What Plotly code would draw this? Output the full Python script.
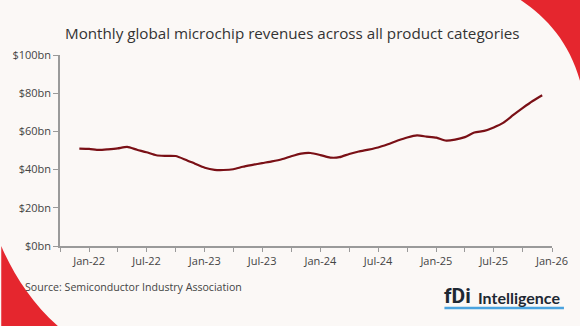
import plotly.graph_objects as go

# ---- data (monthly, $bn) ----
start_year, start_month = 2021, 12
revenues = [51.0, 50.8, 50.3, 50.6, 51.1, 51.9, 50.4, 49.1, 47.5, 47.2, 47.1, 45.2,
            43.1, 41.0, 39.9, 39.8, 40.2, 41.5, 42.5, 43.4, 44.3, 45.4, 47.0, 48.4,
            48.7, 47.6, 46.3, 46.5, 48.2, 49.5, 50.5, 51.6, 53.3, 55.2, 56.8, 57.9,
            57.3, 56.7, 55.2, 55.7, 57.0, 59.4, 60.3, 62.1, 64.6, 68.6, 72.3, 75.9,
            78.9]
dates = []
y, m = start_year, start_month
for _ in revenues:
    dates.append(f"{y:04d}-{m:02d}-01")
    m += 1
    if m > 12:
        m = 1
        y += 1

x_tickvals = ["2021-10-01", "2022-01-01", "2022-04-01", "2022-07-01", "2022-10-01",
              "2023-01-01", "2023-04-01", "2023-07-01", "2023-10-01", "2024-01-01",
              "2024-04-01", "2024-07-01", "2024-10-01", "2025-01-01", "2025-04-01",
              "2025-07-01", "2025-10-01", "2026-01-01"]
x_ticktext = ["", "Jan-22", "", "Jul-22", "", "Jan-23", "", "Jul-23", "", "Jan-24",
              "", "Jul-24", "", "Jan-25", "", "Jul-25", "", "Jan-26"]
y_tickvals = [0, 20, 40, 60, 80, 100]
y_ticktext = ["$0bn", "$20bn", "$40bn", "$60bn", "$80bn", "$100bn"]

title = "Monthly global microchip revenues across all product categories"
source = "Source: Semiconductor Industry Association"

# ---- layout geometry ----
W, H = 580, 326
ML, MR, MT, MB = 58, 28, 55, 80
PW, PH = W - ML - MR, H - MT - MB

def px(x):
    return (x - ML) / PW

def py(yv):
    return (H - MB - yv) / PH

BG = "#fbf8f6"
RED = "#e5262e"
LINE = "#7a1016"
FONT = "Open Sans"

fig = go.Figure()
fig.add_trace(go.Scatter(x=dates, y=revenues, mode="lines",
                         line=dict(color=LINE, width=2.2, shape="spline", smoothing=0.6),
                         hoverinfo="skip", showlegend=False))

def curve_path(p0, c1, c2, p1, rest):
    s = f"M {px(p0[0]):.4f},{py(p0[1]):.4f} C {px(c1[0]):.4f},{py(c1[1]):.4f} {px(c2[0]):.4f},{py(c2[1]):.4f} {px(p1[0]):.4f},{py(p1[1]):.4f}"
    for a, b in rest:
        s += f" L {px(a):.4f},{py(b):.4f}"
    return s + " Z"

shapes = [
    dict(type="path", xref="paper", yref="paper",
         path=curve_path((519, -1), (548, 18), (572, 45), (582, 88), [(582, -1)]),
         fillcolor=RED, line=dict(width=0), layer="below"),
    dict(type="path", xref="paper", yref="paper",
         path=curve_path((-1, 246), (10, 272), (30, 304), (57, 327), [(-1, 327)]),
         fillcolor=RED, line=dict(width=0), layer="below"),
    dict(type="line", xref="paper", yref="paper",
         x0=px(444), x1=px(564), y0=py(308), y1=py(308),
         line=dict(color="#4aa3df", width=2.5)),
]

annotations = [
    dict(text=title, x=px(291), y=py(33), xref="paper", yref="paper",
         showarrow=False, xanchor="center", yanchor="middle",
         font=dict(family=FONT, size=15.2, color="#333333")),
    dict(text=source, x=px(21), y=py(287), xref="paper", yref="paper",
         showarrow=False, xanchor="left", yanchor="middle",
         font=dict(family=FONT, size=10.6, color="#444444")),
    dict(text="<b>fDi</b>", x=px(442), y=py(296), xref="paper", yref="paper",
         showarrow=False, xanchor="left", yanchor="middle",
         font=dict(family="Roboto", size=21, color="#1e2833")),
    dict(text="<b>Intelligence</b>", x=px(476), y=py(297.5), xref="paper", yref="paper",
         showarrow=False, xanchor="left", yanchor="middle",
         font=dict(family="Lato", size=16, color="#1e2833")),
]

fig.update_layout(
    width=W, height=H,
    margin=dict(l=ML, r=MR, t=MT, b=MB, pad=0),
    paper_bgcolor=BG, plot_bgcolor=BG,
    shapes=shapes, annotations=annotations,
    showlegend=False,
    font=dict(family=FONT, color="#444444", size=11),
    xaxis=dict(type="date", range=["2021-10-01", "2026-01-01"],
               tickmode="array", tickvals=x_tickvals, ticktext=x_ticktext,
               showgrid=False, zeroline=False, showline=True,
               linecolor="#9a9a9a", linewidth=1.5,
               ticks="outside", ticklen=4, tickcolor="#9a9a9a", tickwidth=1.2,
               tickfont=dict(family=FONT, size=11, color="#444444")),
    yaxis=dict(range=[0, 100], tickmode="array", tickvals=y_tickvals, ticktext=y_ticktext,
               showgrid=False, zeroline=False, showline=True,
               linecolor="#9a9a9a", linewidth=1.5,
               ticks="outside", ticklen=5, tickcolor="#9a9a9a", tickwidth=1.2,
               tickfont=dict(family=FONT, size=11, color="#444444")),
)

fig.write_html("out.html")
